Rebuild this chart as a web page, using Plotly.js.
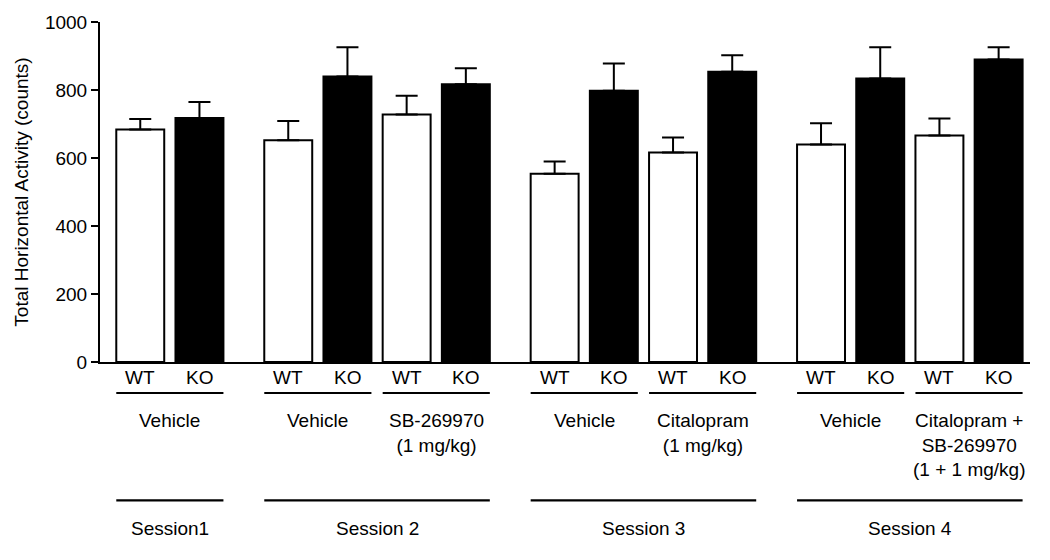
<!DOCTYPE html>
<html>
<head>
<meta charset="utf-8">
<script src="https://cdn.plot.ly/plotly-3.0.1.min.js"></script>
<style>html,body{margin:0;padding:0;background:#fff;}#chart{width:1050px;height:560px;}</style>
</head>
<body>
<div id="chart"></div>
<script>
// Bar positions (numeric slots; groups separated by half a slot)
const wtPos = [0, 2.5, 4.5, 7, 9, 11.5, 13.5];
const koPos = [1, 3.5, 5.5, 8, 10, 12.5, 14.5];
// Means and SEM (upper error only)
const wtMean = [684, 652, 728, 554, 616, 640, 666];
const wtErr  = [31, 57, 55, 36, 44, 62, 50];
const koMean = [718, 840, 817, 798, 854, 834, 890];
const koErr  = [47, 86, 47, 80, 48, 92, 36];
// Labels
const genoLabels = ["WT", "KO"];
const treatments = ["Vehicle", "Vehicle", "SB-269970<br>(1 mg/kg)", "Vehicle",
  "Citalopram<br>(1 mg/kg)", "Vehicle", "Citalopram +<br>SB-269970<br>(1 + 1 mg/kg)"];
const sessions = ["Session1", "Session 2", "Session 3", "Session 4"];
// treatment indices belonging to each session
const sessionTreat = [[0], [1, 2], [3, 4], [5, 6]];

const FONT = "Liberation Sans, Arial, Helvetica, sans-serif";
const FS = 19;
const BW = 0.81;
const zeros = wtMean.map(() => 0);

const traces = [
  {type: 'bar', x: wtPos, y: wtMean, width: BW, name: 'WT',
   marker: {color: '#ffffff', line: {color: '#000', width: 2}},
   error_y: {type: 'data', array: wtErr, arrayminus: zeros, symmetric: false, color: '#000', thickness: 2, width: 11},
   hoverinfo: 'skip'},
  {type: 'bar', x: koPos, y: koMean, width: BW, name: 'KO',
   marker: {color: '#000000', line: {color: '#000', width: 2}},
   error_y: {type: 'data', array: koErr, arrayminus: zeros, symmetric: false, color: '#000', thickness: 2, width: 11},
   hoverinfo: 'skip'}
];

const annotations = [];
const shapes = [];
const half = BW / 2;
const txt = (text, x, y, yanchor) => ({text: text, x: x, y: y, xref: 'x', yref: 'paper',
  xanchor: 'center', yanchor: yanchor, showarrow: false, font: {family: FONT, size: FS, color: '#000'}});
const hline = (x0, x1, y) => ({type: 'line', xref: 'x', yref: 'paper', x0: x0, x1: x1, y0: y, y1: y,
  line: {color: '#000', width: 2.2}});

for (let i = 0; i < wtPos.length; i++) {
  annotations.push(txt(genoLabels[0], wtPos[i], -0.047, 'middle'));
  annotations.push(txt(genoLabels[1], koPos[i], -0.047, 'middle'));
  shapes.push(hline(wtPos[i] - half, koPos[i] + half, -0.0912));
  annotations.push(txt(treatments[i], (wtPos[i] + koPos[i]) / 2, -0.136, 'top'));
}
sessionTreat.forEach((idx, s) => {
  const a = wtPos[idx[0]] - half;
  const b = koPos[idx[idx.length - 1]] + half;
  shapes.push(hline(a, b, -0.4068));
  annotations.push(txt(sessions[s], (a + b) / 2, -0.49, 'middle'));
});

const layout = {
  width: 1050, height: 560,
  margin: {l: 100, r: 20, t: 22, b: 198},
  paper_bgcolor: '#fff', plot_bgcolor: '#fff',
  showlegend: false,
  barmode: 'overlay',
  font: {family: FONT, size: FS, color: '#000'},
  xaxis: {range: [-0.68, 15.03], showline: true, linecolor: '#000', linewidth: 2,
          showticklabels: false, ticks: '', showgrid: false, zeroline: false, fixedrange: true},
  yaxis: {range: [0, 1000], tickvals: [0, 200, 400, 600, 800, 1000], ticks: 'outside', ticklen: 7,
          tickwidth: 2, tickcolor: '#000', showline: true, linecolor: '#000', linewidth: 2,
          showgrid: false, zeroline: false, tickfont: {family: FONT, size: FS, color: '#000'},
          title: {text: 'Total Horizontal Activity (counts)', font: {family: FONT, size: FS, color: '#000'}, standoff: 11},
          fixedrange: true},
  annotations: annotations,
  shapes: shapes
};

Plotly.newPlot('chart', traces, layout, {displayModeBar: false, staticPlot: true});
</script>
</body>
</html>
